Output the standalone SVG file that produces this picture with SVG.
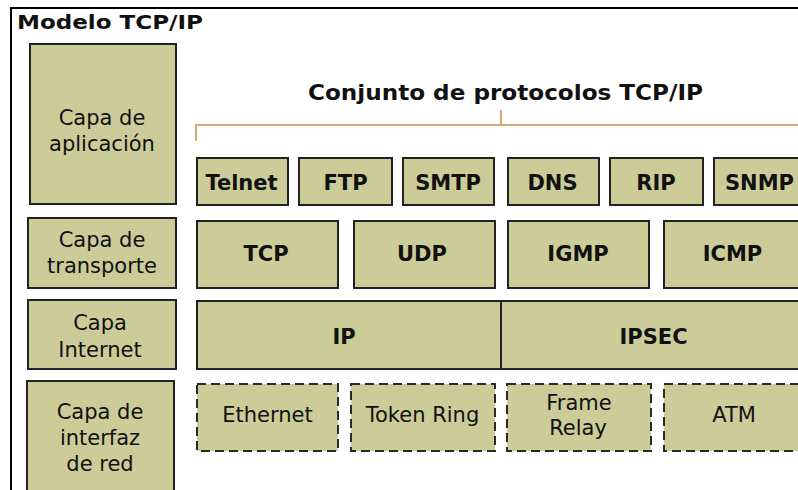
<svg xmlns="http://www.w3.org/2000/svg" width="798" height="490" viewBox="0 0 798 490">
<style>
  .box { fill: #cccc99; stroke: #222; stroke-width: 2; }
  .dash { fill: #cccc99; stroke: #2a2a2a; stroke-width: 2; stroke-dasharray: 9 5; }
  .lbl { font-family: "DejaVu Sans", Verdana, sans-serif; font-size: 21px; fill: #111; text-anchor: middle; }
  .b { font-weight: bold; }
  .title { font-family: "DejaVu Sans", Verdana, sans-serif; font-weight: bold; fill: #111; }
  .bracket { fill: none; stroke: #d9a675; stroke-width: 2; }
</style>
<rect x="0" y="0" width="798" height="490" fill="#ffffff"/>
<g id="frame">
  <path d="M11 492 V8 H800" fill="none" stroke="#000" stroke-width="2"/>
  <text class="title" x="17" y="29" font-size="20" textLength="186" lengthAdjust="spacingAndGlyphs">Modelo TCP/IP</text>
</g>
<g id="suite-title">
  <text class="title" x="505.5" y="100" font-size="22" text-anchor="middle" textLength="395" lengthAdjust="spacingAndGlyphs">Conjunto de protocolos TCP/IP</text>
</g>
<g id="connectors">
  <path class="bracket" d="M196 141 V125 H800"/>
  <path class="bracket" d="M501 110 V125"/>
</g>
<g id="layer-app">
  <rect class="box" x="30" y="44" width="146" height="160"/>
  <text class="lbl" x="102" y="125">Capa de</text>
  <text class="lbl" x="102" y="151">aplicación</text>
</g>
<g id="layer-transport">
  <rect class="box" x="28" y="218" width="148" height="70"/>
  <text class="lbl" x="102" y="247">Capa de</text>
  <text class="lbl" x="102" y="273">transporte</text>
</g>
<g id="layer-internet">
  <rect class="box" x="28" y="300" width="148" height="69"/>
  <text class="lbl" x="100" y="330">Capa</text>
  <text class="lbl" x="100" y="357">Internet</text>
</g>
<g id="layer-netif">
  <rect class="box" x="27" y="381" width="147" height="120"/>
  <text class="lbl" x="100" y="419">Capa de</text>
  <text class="lbl" x="100" y="445">interfaz</text>
  <text class="lbl" x="100" y="471">de red</text>
</g>
<g id="telnet">
  <rect class="box" x="197" y="158" width="91" height="47"/>
  <text class="lbl b" x="241.5" y="190">Telnet</text>
</g>
<g id="ftp">
  <rect class="box" x="299" y="158" width="93" height="47"/>
  <text class="lbl b" x="345.5" y="190">FTP</text>
</g>
<g id="smtp">
  <rect class="box" x="403" y="158" width="91" height="47"/>
  <text class="lbl b" x="448" y="190">SMTP</text>
</g>
<g id="dns">
  <rect class="box" x="508" y="158" width="91" height="47"/>
  <text class="lbl b" x="552.5" y="190">DNS</text>
</g>
<g id="rip">
  <rect class="box" x="610" y="158" width="93" height="47"/>
  <text class="lbl b" x="656" y="190">RIP</text>
</g>
<g id="snmp">
  <rect class="box" x="714" y="158" width="100" height="47"/>
  <text class="lbl b" x="759.5" y="190">SNMP</text>
</g>
<g id="tcp">
  <rect class="box" x="197" y="221" width="141" height="67"/>
  <text class="lbl b" x="266" y="261">TCP</text>
</g>
<g id="udp">
  <rect class="box" x="354" y="221" width="141" height="67"/>
  <text class="lbl b" x="422" y="261">UDP</text>
</g>
<g id="igmp">
  <rect class="box" x="508" y="221" width="141" height="67"/>
  <text class="lbl b" x="578" y="261">IGMP</text>
</g>
<g id="icmp">
  <rect class="box" x="664" y="221" width="150" height="67"/>
  <text class="lbl b" x="732.5" y="261">ICMP</text>
</g>
<g id="ip-ipsec">
  <rect class="box" x="197" y="301" width="620" height="68"/>
  <line x1="501" y1="301" x2="501" y2="369" stroke="#222" stroke-width="2"/>
  <text class="lbl b" x="344" y="344">IP</text>
  <text class="lbl b" x="653.5" y="344">IPSEC</text>
</g>
<g id="ethernet">
  <rect class="dash" x="197" y="384" width="141" height="67"/>
  <text class="lbl" x="267.5" y="422">Ethernet</text>
</g>
<g id="token-ring">
  <rect class="dash" x="351" y="384" width="144" height="67"/>
  <text class="lbl" x="422.5" y="422">Token Ring</text>
</g>
<g id="frame-relay">
  <rect class="dash" x="507" y="384" width="144" height="67"/>
  <text class="lbl" x="579" y="410">Frame</text>
  <text class="lbl" x="578" y="435">Relay</text>
</g>
<g id="atm">
  <rect class="dash" x="664" y="384" width="150" height="67"/>
  <text class="lbl" x="734" y="422">ATM</text>
</g>
</svg>
